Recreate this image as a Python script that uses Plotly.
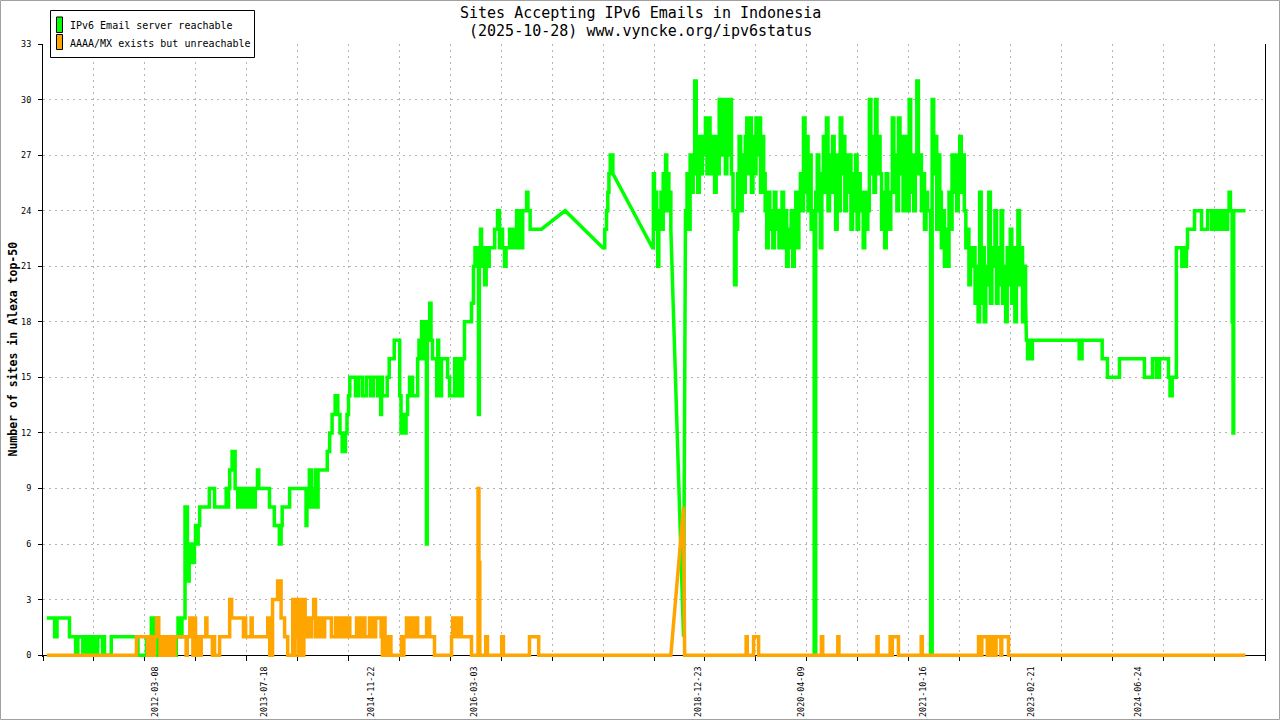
import pandas as pd
import plotly.graph_objects as go

# ---------------- texts ----------------
TITLE = "Sites Accepting IPv6 Emails in Indonesia"
SUBTITLE = "(2025-10-28) www.vyncke.org/ipv6status"
Y_TITLE = "Number of sites in Alexa top-50"
SERIES_NAMES = ["IPv6 Email server reachable", "AAAA/MX exists but unreachable"]
SERIES_COLORS = ["#00ff00", "#ffa500"]

# ---------------- axes ----------------
X_RANGE = ["2010-10-12", "2026-01-25"]
X_TICK_COUNT = 24
Y_RANGE = [-0.1, 33]
Y_TICKS = list(range(0, 34, 3))
X_LABEL_DATES = ["2012-03-08", "2013-07-18", "2014-11-22", "2016-03-03", "2018-12-23",
                 "2020-04-09", "2021-10-16", "2023-02-21", "2024-06-24"]

# ---------------- data: IPv6 Email server reachable ----------------
# "hv" lists: (date, value) = value from that date on; "lin" lists: linearly joined samples (data gaps)
green_a = [
    ("2010-10-29", 2), ("2010-12-04", 1), ("2010-12-15", 2), ("2011-02-10", 1),
    ("2011-03-10", 0), ("2011-03-20", 1), ("2011-04-12", 0), ("2011-04-17", 1), ("2011-04-22", 0), ("2011-04-28", 1),
    ("2011-05-06", 0), ("2011-05-11", 1), ("2011-05-15", 0), ("2011-05-20", 1), ("2011-05-24", 0), ("2011-05-28", 1),
    ("2011-06-04", 0), ("2011-06-09", 1), ("2011-06-13", 0), ("2011-06-19", 1),
    ("2011-07-11", 0), ("2011-07-16", 1), ("2011-07-20", 0), ("2011-08-20", 1),
    ("2011-12-20", 0), ("2012-01-28", 1), ("2012-02-10", 0), ("2012-02-19", 2), ("2012-02-25", 1), ("2012-03-01", 2),
    ("2012-03-20", 0), ("2012-03-26", 1), ("2012-04-02", 0), ("2012-04-09", 1), ("2012-04-16", 0), ("2012-04-24", 1),
    ("2012-05-02", 0), ("2012-05-10", 1), ("2012-05-18", 0), ("2012-05-27", 1), ("2012-06-05", 0), ("2012-06-12", 1),
    ("2012-06-20", 2), ("2012-07-01", 1), ("2012-07-08", 2), ("2012-07-22", 8),
    ("2012-08-02", 5), ("2012-08-06", 4), ("2012-08-10", 6), ("2012-08-15", 5), ("2012-08-21", 6), ("2012-08-28", 5),
    ("2012-09-03", 6), ("2012-09-08", 7), ("2012-09-15", 6), ("2012-09-20", 7), ("2012-09-27", 8),
    ("2012-11-10", 9), ("2012-12-04", 8),
    ("2013-01-26", 9), ("2013-02-01", 8), ("2013-02-06", 9), ("2013-02-11", 10), ("2013-02-22", 11), ("2013-03-08", 9),
    ("2013-03-20", 8), ("2013-03-25", 9), ("2013-04-04", 8), ("2013-04-09", 9), ("2013-04-24", 8), ("2013-04-30", 9),
    ("2013-05-06", 8), ("2013-05-12", 9), ("2013-05-18", 8), ("2013-05-25", 9), ("2013-06-01", 8), ("2013-06-08", 9),
    ("2013-06-18", 10), ("2013-06-24", 9),
    ("2013-08-12", 8), ("2013-09-03", 7), ("2013-09-26", 6), ("2013-10-04", 7), ("2013-10-09", 8), ("2013-11-12", 9),
    ("2014-01-26", 7), ("2014-01-30", 9), ("2014-02-04", 8), ("2014-02-10", 10), ("2014-02-20", 8), ("2014-02-26", 9),
    ("2014-03-04", 8), ("2014-03-10", 10), ("2014-03-16", 8), ("2014-03-22", 10),
    ("2014-05-03", 11), ("2014-05-14", 12), ("2014-05-25", 13), ("2014-06-08", 14), ("2014-06-20", 13), ("2014-06-30", 12),
    ("2014-07-10", 11), ("2014-07-25", 12), ("2014-08-01", 13), ("2014-08-08", 14), ("2014-08-14", 15),
    ("2014-09-09", 14), ("2014-09-23", 15), ("2014-10-11", 14), ("2014-10-29", 15), ("2014-11-17", 14), ("2014-11-30", 15),
    ("2014-12-19", 14), ("2014-12-28", 15), ("2015-01-02", 13), ("2015-01-06", 15), ("2015-01-10", 14),
    ("2015-02-01", 15), ("2015-02-10", 16), ("2015-03-05", 17), ("2015-03-30", 14), ("2015-04-05", 12), ("2015-04-14", 13),
    ("2015-04-20", 12), ("2015-04-28", 13), ("2015-05-05", 14), ("2015-05-14", 15), ("2015-05-28", 14),
    ("2015-06-20", 16), ("2015-06-26", 17), ("2015-07-03", 16), ("2015-07-08", 18), ("2015-07-13", 16), ("2015-07-18", 17),
    ("2015-07-24", 18), ("2015-07-30", 6), ("2015-08-03", 17), ("2015-08-09", 18), ("2015-08-14", 19), ("2015-08-20", 17),
    ("2015-08-27", 16), ("2015-09-15", 14), ("2015-09-20", 17), ("2015-09-24", 14), ("2015-10-07", 16),
    ("2015-11-04", 15), ("2015-11-13", 14), ("2015-12-06", 16), ("2015-12-12", 14), ("2015-12-18", 16), ("2015-12-24", 14),
    ("2015-12-30", 16), ("2016-01-05", 14), ("2016-01-11", 16), ("2016-01-20", 18), ("2016-02-21", 19), ("2016-03-01", 21),
    ("2016-03-08", 22), ("2016-03-24", 13), ("2016-03-28", 22), ("2016-04-02", 23), ("2016-04-07", 21), ("2016-04-12", 22),
    ("2016-04-21", 20), ("2016-04-28", 22), ("2016-05-05", 21), ("2016-05-12", 22), ("2016-06-06", 23), ("2016-06-19", 24),
    ("2016-06-28", 22), ("2016-07-05", 23), ("2016-07-12", 22), ("2016-07-21", 21), ("2016-07-28", 22), ("2016-08-13", 23),
    ("2016-08-20", 22), ("2016-09-05", 23), ("2016-09-14", 24), ("2016-09-21", 22), ("2016-09-28", 24), ("2016-10-05", 22),
    ("2016-10-12", 24), ("2016-10-30", 25), ("2016-11-05", 24), ("2016-11-15", 23), ("2017-01-06", 23),
]
green_gap1 = [("2017-04-24", 24), ("2017-10-13", 22)]
green_b = [("2017-10-13", 22), ("2017-10-22", 23), ("2017-10-30", 24), ("2017-11-05", 25), ("2017-11-10", 26),
           ("2017-11-16", 27), ("2017-11-28", 26)]
green_gap2 = [("2018-05-28", 22)]
green_c = [("2018-05-28", 22), ("2018-06-01", 26), ("2018-06-06", 23), ("2018-06-11", 25), ("2018-06-16", 23),
           ("2018-06-21", 21), ("2018-06-26", 24), ("2018-07-01", 23), ("2018-07-06", 25), ("2018-07-11", 23),
           ("2018-07-16", 26), ("2018-07-22", 24), ("2018-07-27", 27), ("2018-08-01", 25), ("2018-08-06", 26),
           ("2018-08-11", 24), ("2018-08-16", 25), ("2018-08-20", 23)]
green_gap3 = [("2018-10-17", 1)]
# weekly samples, 2018-10-26 .. 2023-01-27
GREEN_DENSE_START = "2018-10-26"
GREEN_DENSE_VALUES = [
    24, 26, 23, 27, 25, 26, 31, 27, 25, 28, 26, 28, 27, 29, 26, 29, 27, 26, 28, 25, 28, 26,
    30, 27, 30, 28, 26, 30, 27, 30, 26, 24, 20, 23, 26, 28, 24, 27, 25, 28, 29, 26, 29, 25, 28, 26,
    29, 27, 29, 25, 28, 26, 24, 22, 25, 23,
    24, 22, 25, 23, 24, 22, 23, 25, 22, 24, 21, 23, 22, 24, 21, 23, 25, 22, 24,
    26, 24, 29, 25, 28, 24, 27, 23, 24, 0, 25,
    27, 24, 22, 26, 28, 25, 29, 24, 27, 25, 28, 26, 23, 27, 24, 29, 26, 28, 24, 27,
    25, 27, 23, 26, 24, 27, 23, 26, 25, 24, 22, 25, 23, 24,
    30, 26, 28, 25, 30, 26, 28, 26, 23, 25, 22, 26, 24, 23, 25,
    29, 25, 27, 24, 29, 26, 28, 24, 26, 28, 24, 30, 25, 27, 24, 26, 31, 26,
    27, 24, 26, 23, 25, 24, 24, 0, 30, 26, 28, 23, 27,
    25, 22, 24, 21, 23, 21, 25, 23, 27, 25, 27, 24, 26, 28, 25, 27, 24, 22, 23, 20, 22, 21,
    22, 19, 21, 18, 25, 19, 22, 18, 21, 20, 25, 19, 22,
    21, 24, 19, 22, 20, 24, 19, 21, 18, 22, 20, 23, 19, 22, 18, 21, 24, 20, 22, 18, 21, 19,
]
green_d = [
    ("2023-01-31", 17), ("2023-02-05", 16), ("2023-02-12", 17), ("2023-02-16", 16), ("2023-02-27", 17),
    ("2023-09-29", 16), ("2023-10-12", 17), ("2024-01-12", 16), ("2024-02-05", 15), ("2024-03-31", 16),
    ("2024-07-23", 15), ("2024-08-29", 16), ("2024-09-16", 15), ("2024-09-30", 16), ("2024-11-10", 15),
    ("2024-11-17", 14), ("2024-11-27", 15), ("2024-12-16", 22), ("2025-01-10", 21), ("2025-01-16", 22),
    ("2025-01-21", 21), ("2025-01-31", 22), ("2025-02-05", 23), ("2025-03-09", 24), ("2025-04-10", 23),
    ("2025-05-08", 24), ("2025-05-26", 23), ("2025-06-04", 24), ("2025-06-08", 23), ("2025-06-14", 24),
    ("2025-06-20", 23), ("2025-06-27", 24), ("2025-07-03", 23), ("2025-07-10", 24), ("2025-07-16", 23),
    ("2025-07-24", 24), ("2025-07-30", 23), ("2025-08-07", 24), ("2025-08-14", 25), ("2025-08-20", 24),
    ("2025-08-28", 18), ("2025-09-01", 12), ("2025-09-04", 24), ("2025-10-28", 24),
]

# ---------------- data: AAAA/MX exists but unreachable ----------------
orange_a = [
    ("2010-10-29", 0), ("2011-12-13", 1),
    ("2012-02-02", 0), ("2012-02-08", 1), ("2012-02-14", 0), ("2012-02-20", 1), ("2012-02-27", 0), ("2012-03-04", 1),
    ("2012-03-14", 2), ("2012-03-24", 1), ("2012-03-30", 0), ("2012-04-05", 1), ("2012-04-11", 0), ("2012-04-17", 1),
    ("2012-04-23", 0), ("2012-04-29", 1), ("2012-05-05", 0), ("2012-05-11", 1), ("2012-05-17", 0), ("2012-05-24", 1),
    ("2012-05-31", 0), ("2012-06-06", 1),
    ("2012-07-27", 0), ("2012-08-01", 1), ("2012-08-13", 2), ("2012-08-22", 1), ("2012-08-27", 0), ("2012-08-31", 1),
    ("2012-09-03", 2), ("2012-09-08", 1), ("2012-09-12", 0), ("2012-09-18", 1),
    ("2012-09-30", 0), ("2012-10-04", 1), ("2012-10-25", 2), ("2012-10-30", 1), ("2012-11-24", 0), ("2012-11-29", 1),
    ("2012-12-04", 0), ("2012-12-27", 1),
    ("2013-02-11", 3), ("2013-02-20", 2), ("2013-04-15", 1), ("2013-04-20", 2), ("2013-04-25", 1), ("2013-05-20", 2),
    ("2013-05-25", 1), ("2013-08-04", 2), ("2013-08-13", 0), ("2013-08-26", 3), ("2013-09-18", 4), ("2013-10-04", 2),
    ("2013-10-20", 1), ("2013-11-03", 0),
    ("2013-11-26", 3), ("2013-12-02", 0), ("2013-12-07", 3), ("2013-12-13", 1), ("2013-12-18", 3), ("2013-12-24", 0),
    ("2013-12-29", 3), ("2014-01-04", 2), ("2014-01-10", 0), ("2014-01-16", 3), ("2014-01-22", 1), ("2014-01-27", 2),
    ("2014-02-02", 1),
    ("2014-02-08", 2), ("2014-02-14", 1), ("2014-02-20", 2), ("2014-03-02", 3), ("2014-03-10", 1), ("2014-03-16", 2),
    ("2014-03-22", 1), ("2014-03-30", 2), ("2014-04-07", 1), ("2014-04-21", 2), ("2014-05-22", 1), ("2014-06-10", 2),
    ("2014-06-15", 1),
    ("2014-06-29", 2), ("2014-07-08", 1), ("2014-07-14", 2), ("2014-07-25", 1), ("2014-07-30", 2), ("2014-08-14", 1),
    ("2014-09-14", 2), ("2014-09-22", 1), ("2014-09-28", 2), ("2014-10-06", 1), ("2014-10-12", 2), ("2014-10-22", 1),
    ("2014-11-12", 2), ("2014-11-20", 1), ("2014-11-26", 2), ("2014-12-04", 1), ("2014-12-10", 2), ("2015-01-04", 1),
    ("2015-01-10", 0), ("2015-01-16", 2), ("2015-01-22", 0), ("2015-01-28", 1), ("2015-02-04", 0), ("2015-02-11", 1),
    ("2015-02-18", 0),
    ("2015-04-07", 1), ("2015-04-14", 0), ("2015-04-18", 1), ("2015-04-30", 2), ("2015-05-06", 1), ("2015-05-12", 2),
    ("2015-05-18", 1), ("2015-05-24", 2), ("2015-05-30", 1), ("2015-06-06", 2), ("2015-06-20", 1), ("2015-07-31", 2),
    ("2015-08-14", 1), ("2015-09-05", 0),
    ("2015-11-22", 1), ("2015-11-27", 2), ("2015-12-05", 1), ("2015-12-09", 2), ("2015-12-15", 1), ("2015-12-29", 2),
    ("2016-01-06", 1), ("2016-02-21", 0),
    ("2016-03-22", 9), ("2016-03-26", 5), ("2016-03-30", 0), ("2016-04-26", 1), ("2016-05-04", 0), ("2016-07-08", 1),
    ("2016-07-16", 0), ("2016-11-12", 1), ("2016-12-24", 0), ("2018-08-20", 0),
]
orange_gap = [("2018-10-17", 8)]
orange_b = [
    ("2018-10-22", 0), ("2019-07-30", 1), ("2019-08-04", 0), ("2019-09-02", 1), ("2019-09-25", 0),
    ("2020-07-08", 1), ("2020-07-14", 0), ("2020-09-21", 1), ("2020-09-26", 0), ("2021-03-19", 1),
    ("2021-03-24", 0), ("2021-05-18", 1), ("2021-05-24", 0), ("2021-05-28", 1), ("2021-06-25", 0),
    ("2021-10-07", 1), ("2021-10-12", 0), ("2022-06-26", 1), ("2022-07-08", 0), ("2022-07-11", 1),
    ("2022-08-05", 0), ("2022-08-09", 1), ("2022-08-21", 0), ("2022-08-25", 1), ("2022-09-10", 0),
    ("2022-09-14", 1), ("2022-10-06", 0), ("2022-10-10", 1), ("2022-11-10", 0), ("2025-10-28", 0),
]


def build(segments):
    xs, ys = [], []
    for kind, pts in segments:
        if kind == "hv":
            prev = None
            for d, v in pts:
                if prev is not None:
                    xs.append(d)
                    ys.append(prev)
                xs.append(d)
                ys.append(v)
                prev = v
        else:
            for d, v in pts:
                xs.append(d)
                ys.append(v)
    return xs, ys


dense_dates = pd.date_range(GREEN_DENSE_START, periods=len(GREEN_DENSE_VALUES), freq="7D").strftime("%Y-%m-%d")
green_dense = list(zip(dense_dates, GREEN_DENSE_VALUES))

gx, gy = build([("hv", green_a), ("lin", green_gap1), ("hv", green_b), ("lin", green_gap2),
                ("hv", green_c), ("lin", green_gap3), ("hv", green_dense), ("hv", green_d)])
ox, oy = build([("hv", orange_a), ("lin", orange_gap), ("hv", orange_b)])

# ---------------- layout geometry ----------------
L, R, T, B = 43, 15, 44, 63
W = 1280 - L - R
H = 720 - T - B


def xp(px):
    return (px - L) / W


def yp(py):
    return (T + H - py) / H


FONT = "DejaVu Sans Mono"
GRID = "#b4b4b4"

x_ticks = pd.date_range(X_RANGE[0], X_RANGE[1], periods=X_TICK_COUNT + 1).strftime("%Y-%m-%d %H:%M:%S").tolist()
axis_pos = (0 - Y_RANGE[0]) / (Y_RANGE[1] - Y_RANGE[0])

fig = go.Figure()
fig.add_trace(go.Scatter(x=gx, y=gy, mode="lines", name=SERIES_NAMES[0],
                         line=dict(color=SERIES_COLORS[0], width=3.5, simplify=False), showlegend=False))
fig.add_trace(go.Scatter(x=ox, y=oy, mode="lines", name=SERIES_NAMES[1],
                         line=dict(color=SERIES_COLORS[1], width=3.5, simplify=False), showlegend=False))

fig.update_layout(
    width=1280, height=720,
    margin=dict(l=L, r=R, t=T, b=B, pad=0, autoexpand=False),
    paper_bgcolor="white", plot_bgcolor="white",
    font=dict(family=FONT, color="black"),
    showlegend=False,
    hovermode=False,
    xaxis=dict(
        type="date", range=X_RANGE, anchor="free", position=axis_pos, automargin=False,
        tickmode="array", tickvals=X_LABEL_DATES, ticktext=X_LABEL_DATES, tickangle=-90,
        ticks="outside", ticklen=7, tickcolor="rgba(0,0,0,0)",
        tickfont=dict(family=FONT, size=8.4, color="black"),
        showgrid=False, zeroline=False,
        showline=True, linecolor="black", linewidth=1, layer="below traces",
        minor=dict(tickmode="array", tickvals=x_ticks, ticks="outside", ticklen=5, tickcolor="black",
                   showgrid=True, gridcolor=GRID, griddash="2px,4px", gridwidth=1),
    ),
    yaxis=dict(
        range=Y_RANGE, tickmode="array", tickvals=Y_TICKS, ticktext=[str(v) for v in Y_TICKS],
        automargin=False,
        ticks="outside", ticklen=4, tickcolor="black", ticklabelstandoff=5,
        tickfont=dict(family=FONT, size=8.5, color="black"),
        showgrid=True, gridcolor=GRID, griddash="2px,4px", gridwidth=1, zeroline=False,
        showline=True, linecolor="black", linewidth=1, mirror=True,
    ),
)

annotations = [
    dict(x=xp(640), y=yp(13), text=TITLE, font=dict(family=FONT, size=15, color="black")),
    dict(x=xp(640), y=yp(31), text=SUBTITLE, font=dict(family=FONT, size=15, color="black")),
    dict(x=xp(12), y=yp(349.5), text="<b>" + Y_TITLE + "</b>", textangle=-90,
         font=dict(family=FONT, size=11.5, color="black")),
    dict(x=xp(68), y=yp(25.5), text=SERIES_NAMES[0], xanchor="left",
         font=dict(family=FONT, size=10, color="black")),
    dict(x=xp(68), y=yp(43), text=SERIES_NAMES[1], xanchor="left",
         font=dict(family=FONT, size=10, color="black")),
]
for a in annotations:
    a.setdefault("xanchor", "center")
    a.update(xref="paper", yref="paper", yanchor="middle", showarrow=False)
fig.update_layout(annotations=annotations)

shapes = [
    dict(type="rect", x0=xp(0.5), x1=xp(1279.5), y0=yp(719.5), y1=yp(0.5),
         line=dict(color="#a0a0a0", width=1), fillcolor="rgba(0,0,0,0)", layer="above"),
    dict(type="rect", x0=xp(50.5), x1=xp(254.5), y0=yp(57.5), y1=yp(10.5),
         line=dict(color="black", width=1), fillcolor="white", layer="above"),
    dict(type="rect", x0=xp(56.5), x1=xp(62.5), y0=yp(32.5), y1=yp(17),
         line=dict(color="black", width=1), fillcolor=SERIES_COLORS[0], layer="above"),
    dict(type="rect", x0=xp(56.5), x1=xp(62.5), y0=yp(49.5), y1=yp(34.5),
         line=dict(color="black", width=1), fillcolor=SERIES_COLORS[1], layer="above"),
]
for s in shapes:
    s.update(xref="paper", yref="paper")
fig.update_layout(shapes=shapes)

fig.write_html("out.html", config={"displayModeBar": False, "staticPlot": True},
               post_script="document.body.style.margin='0px';document.body.style.overflow='hidden';")
